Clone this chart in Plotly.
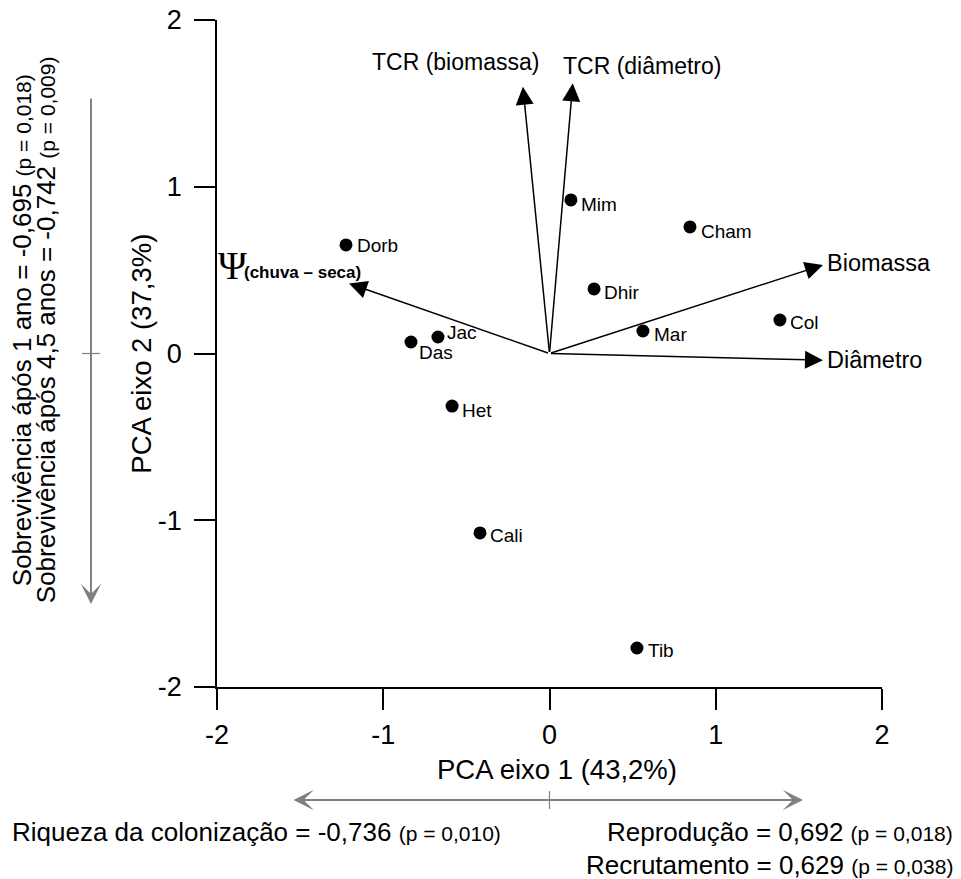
import plotly.graph_objects as go

# ---------------- data ----------------
species = ["Dorb", "Jac", "Das", "Het", "Cali", "Tib", "Mim", "Cham", "Dhir", "Mar", "Col"]
pc1 = [-1.224, -0.671, -0.833, -0.586, -0.418, 0.526, 0.129, 0.845, 0.268, 0.562, 1.386]
pc2 = [0.651, 0.099, 0.069, -0.315, -1.076, -1.766, 0.921, 0.759, 0.387, 0.135, 0.201]

load_names = ["TCR (biomassa)", "TCR (diâmetro)", "Biomassa", "Diâmetro", "Ψ"]
load_x = [-0.160, 0.140, 1.645, 1.645, -1.206]
load_y = [1.600, 1.620, 0.531, -0.040, 0.420]

tick_vals = [-2, -1, 0, 1, 2]
tick_text = ["-2", "-1", "0", "1", "2"]

x_title = "PCA eixo 1 (43,2%)"
y_title = "PCA eixo 2 (37,3%)"
psi_sub = "(chuva – seca)"

left_lines = [("Sobrevivência ápós 1 ano = -0,695 ", "(p = 0,018)"),
              ("Sobrevivência ápós 4,5 anos = -0,742 ", "(p = 0,009)")]
bottom_left = ("Riqueza da colonização = -0,736 ", "(p = 0,010)")
bottom_right = [("Reprodução = 0,692 ", "(p = 0,018)"),
                ("Recrutamento = 0,629 ", "(p = 0,038)")]

# ---------------- styles ----------------
FONT = "Liberation Sans, Arial, sans-serif"
GRAY = "#808080"
# per-point label offsets in pixels (xshift, yshift)
label_shift = [(9, -1), (7, 4), (6, -11), (8, -4), (8, -3), (9, -3),
               (8, -5), (9, -5), (8, -4), (9, -4), (8, -3)]
# label placement for loadings: (xanchor, xshift, yshift, size)
load_label_style = [("right", 18, 25, 23), ("left", -12, 17, 23),
                    ("left", 2, 2, 23.5), ("left", 2, 0, 23.5)]

fig = go.Figure()
fig.add_trace(go.Scatter(
    x=pc1, y=pc2, mode="markers",
    marker=dict(size=13, color="black"),
    cliponaxis=False, showlegend=False, hoverinfo="skip"))

ann = []
for nm, px, py, (xs, ys) in zip(species, pc1, pc2, label_shift):
    ann.append(dict(x=px, y=py, xref="x", yref="y", text=nm, showarrow=False,
                    xanchor="left", yanchor="middle", xshift=xs, yshift=ys,
                    font=dict(family=FONT, size=19, color="black")))

# loading arrows
for i, (nm, lx, ly) in enumerate(zip(load_names, load_x, load_y)):
    ann.append(dict(x=lx, y=ly, ax=0, ay=0, xref="x", yref="y", axref="x", ayref="y",
                    text="", showarrow=True, arrowhead=2, arrowsize=2.4, arrowwidth=1.5,
                    arrowcolor="black"))
    if i < 4:
        xa, xs, ys, sz = load_label_style[i]
        ann.append(dict(x=lx, y=ly, xref="x", yref="y", text=nm, showarrow=False,
                        xanchor=xa, yanchor="middle", xshift=xs, yshift=ys,
                        font=dict(family=FONT, size=sz, color="black")))
    else:
        ann.append(dict(x=lx, y=ly, xref="x", yref="y", text="<b>" + psi_sub + "</b>",
                        showarrow=False, xanchor="right", yanchor="middle",
                        xshift=14, yshift=11,
                        font=dict(family=FONT, size=17, color="black")))
        ann.append(dict(x=lx, y=ly, xref="x", yref="y", text=nm, showarrow=False,
                        xanchor="right", yanchor="middle", xshift=-100, yshift=18,
                        font=dict(family="Liberation Serif, Times New Roman, serif",
                                  size=39, color="black")))

# axis titles
ann.append(dict(x=0.511, y=-0.124, xref="paper", yref="paper", text=x_title,
                showarrow=False, xanchor="center", yanchor="middle",
                font=dict(family=FONT, size=27.5, color="black")))
ann.append(dict(x=-0.114, y=0.5, xref="paper", yref="paper", text=y_title,
                showarrow=False, xanchor="center", yanchor="middle", textangle=-90,
                font=dict(family=FONT, size=27.5, color="black")))

def two_size(a, b):
    return a + "<span style='font-size:21px'>" + b + "</span>"

# left side correlation texts
for k, (a, b) in enumerate(left_lines):
    ann.append(dict(x=[-0.2932, -0.2571][k], y=0.535, xref="paper", yref="paper",
                    text=two_size(a, b), showarrow=False, textangle=-90,
                    xanchor="center", yanchor="middle",
                    font=dict(family=FONT, size=26, color="black")))
# bottom texts
ann.append(dict(x=-0.3113, y=-0.2174, xref="paper", yref="paper",
                text=two_size(*bottom_left), showarrow=False,
                xanchor="left", yanchor="middle",
                font=dict(family=FONT, size=26, color="black")))
for k, (a, b) in enumerate(bottom_right):
    ann.append(dict(x=1.1098, y=[-0.2174, -0.2669][k], xref="paper", yref="paper",
                    text=two_size(a, b), showarrow=False,
                    xanchor="right", yanchor="middle",
                    font=dict(family=FONT, size=26, color="black")))

# gray arrows
ann.append(dict(x=-0.1895, y=0.1244, xref="paper", yref="paper", ax=0, ay=-507,
                text="", showarrow=True, arrowhead=3, arrowsize=1.7, arrowwidth=2,
                arrowcolor=GRAY))
ann.append(dict(x=0.8812, y=-0.1694, xref="paper", yref="paper", ax=-511, ay=0,
                text="", showarrow=True, arrowhead=3, arrowsize=1.7, arrowwidth=2,
                arrowside="end+start", startarrowhead=3, startarrowsize=1.7,
                arrowcolor=GRAY))

shapes = [
    dict(type="line", xref="paper", yref="paper", x0=-0.203, x1=-0.176, y0=0.5, y1=0.5,
         line=dict(color=GRAY, width=1.2)),
    dict(type="line", xref="paper", yref="paper", x0=0.5, x1=0.5, y0=-0.156, y1=-0.183,
         line=dict(color=GRAY, width=1.2)),
]

axis_common = dict(range=[-2, 2], tickvals=tick_vals, ticktext=tick_text,
                   showgrid=False, zeroline=False, showline=True, linecolor="black",
                   linewidth=1.5, ticks="outside", ticklen=21, tickwidth=1.5,
                   tickcolor="black", tickfont=dict(family=FONT, size=27, color="black"))

fig.update_layout(
    width=961, height=879, autosize=False,
    margin=dict(l=217, r=79, t=20, b=192, autoexpand=False),
    paper_bgcolor="white", plot_bgcolor="white",
    xaxis=dict(**axis_common, ticklabelstandoff=2),
    yaxis=dict(**axis_common, ticklabelstandoff=7),
    annotations=ann, shapes=shapes, showlegend=False,
)

fig.write_html("out.html")
